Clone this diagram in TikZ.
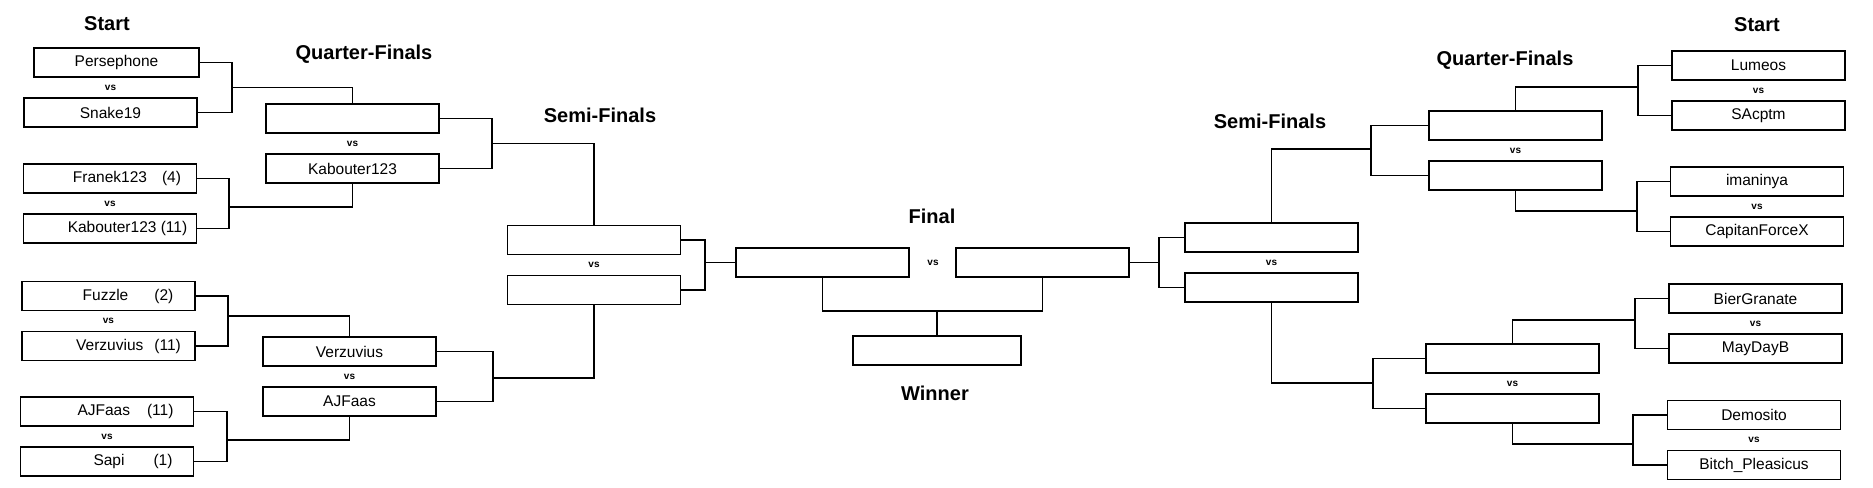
\documentclass[tikz,border=0pt]{standalone}
\usepackage{fontspec}
\setmainfont{Liberation Sans}
\usepackage{tikz}
\usetikzlibrary{positioning}

\begin{document}
\begin{tikzpicture}[x=1pt, y=-1pt, node distance=50pt, line width=1.6pt,
    team/.style={rectangle, draw, minimum width=173pt, minimum height=29pt, inner sep=0pt, font=\fontsize{15.5}{18}\selectfont},
    vs/.style={inner sep=0pt, font=\fontsize{10}{12}\selectfont\bfseries},
    roundtitle/.style={inner sep=0pt, font=\fontsize{20}{24}\selectfont\bfseries},
    line/.style={draw}]

    \path [use as bounding box, fill=white] (0,0) rectangle (1873,487);

    % left half
    \node [roundtitle] (startl) at (107,24) {Start};
    \node [roundtitle] (qftl) at (364,54) {Quarter-Finals};
    \node [roundtitle] (sftl) at (600,115) {Semi-Finals};

    \node [team, minimum width=165pt] (pers) at (116.5,62.5) {Persephone};
    \node [vs, below of=pers, node distance=25pt, xshift=-6pt] (vs1) {vs};
    \node [team, below of=pers, xshift=-6pt] (snake) {Snake19};
    \node [team] (fran) at (110,178.5) {\hspace*{34pt}Franek123\hspace{15pt}(4)};
    \node [vs, below of=fran, node distance=25pt] (vs2) {vs};
    \node [team, below of=fran] (kab) {\hspace*{35pt}Kabouter123 (11)};
    \node [team] (fuzz) at (108.5,296) {\hspace*{39pt}Fuzzle\hspace{26pt}(2)};
    \node [vs, below of=fuzz, node distance=25pt] (vs3) {vs};
    \node [team, below of=fuzz] (verz) {\hspace*{40pt}Verzuvius\hspace{11pt}(11)};
    \node [team] (ajf) at (107,411.5) {\hspace*{37pt}AJFaas\hspace{17pt}(11)};
    \node [vs, below of=ajf, node distance=25pt] (vs4) {vs};
    \node [team, below of=ajf] (sapi) {\hspace*{52pt}Sapi\hspace{29pt}(1)};

    \node [team] (qf1) at (352.5,118.5) {};
    \node [vs, below of=qf1, node distance=25pt] (vs5) {vs};
    \node [team, below of=qf1] (qf2) {Kabouter123};
    \node [team] (qf3) at (349.5,351.5) {Verzuvius};
    \node [vs, below of=qf3, node distance=25pt] (vs6) {vs};
    \node [team, below of=qf3] (qf4) {AJFaas};

    \node [team] (sf1) at (594,240) {};
    \node [vs, below of=sf1, node distance=25pt] (vs7) {vs};
    \node [team, below of=sf1] (sf2) {};

    % final
    \node [roundtitle] (fintitle) at (932,216) {Final};
    \node [team] (finl) at (822.5,262.5) {};
    \node [vs, right of=finl, node distance=110.5pt] (vsf) {vs};
    \node [team, right of=finl, node distance=220pt] (finr) {};
    \node [team, minimum width=168pt] (win) at (937,350.5) {};
    \node [roundtitle] (wintitle) at (935,393) {Winner};

    % right half
    \node [roundtitle] (sftr) at (1270,121) {Semi-Finals};
    \node [roundtitle] (qftr) at (1505,60) {Quarter-Finals};
    \node [roundtitle] (startr) at (1757,25) {Start};

    \node [team] (sfr1) at (1271.5,237.5) {};
    \node [vs, below of=sfr1, node distance=25pt] (vs8) {vs};
    \node [team, below of=sfr1] (sfr2) {};

    \node [team] (qfr1) at (1515.5,125.5) {};
    \node [vs, below of=qfr1, node distance=25pt] (vs9) {vs};
    \node [team, below of=qfr1] (qfr2) {};
    \node [team] (qfr3) at (1512.5,358.5) {};
    \node [vs, below of=qfr3, node distance=25pt] (vs10) {vs};
    \node [team, below of=qfr3] (qfr4) {};

    \node [team] (lum) at (1758.5,65.5) {Lumeos};
    \node [vs, below of=lum, node distance=25pt] (vs11) {vs};
    \node [team, below of=lum] (sac) {SAcptm};
    \node [team] (iman) at (1757,181.5) {imaninya};
    \node [vs, below of=iman, node distance=25pt] (vs12) {vs};
    \node [team, below of=iman] (cap) {CapitanForceX};
    \node [team] (bier) at (1755.5,298.5) {BierGranate};
    \node [vs, below of=bier, node distance=25pt] (vs13) {vs};
    \node [team, below of=bier] (may) {MayDayB};
    \node [team] (demo) at (1754,415) {Demosito};
    \node [vs, below of=demo, node distance=25pt] (vs14) {vs};
    \node [team, below of=demo] (bitch) {Bitch\_Pleasicus};

    % bracket joints
    \coordinate (j1) at (232,87.5);
    \coordinate (j2) at (229,207);
    \coordinate (j3) at (228,316);
    \coordinate (j4) at (227,440);
    \coordinate (j5) at (492,143.5);
    \coordinate (j6) at (493,378);
    \coordinate (j7) at (705,262.5);
    \coordinate (j8) at (937,311);
    \coordinate (j9) at (1159,262.5);
    \coordinate (j10) at (1371,149);
    \coordinate (j11) at (1373,383);
    \coordinate (j12) at (1638,87);
    \coordinate (j13) at (1637,211);
    \coordinate (j14) at (1635,320);
    \coordinate (j15) at (1633,444);

    \path [line] (pers.east) -| (j1) |- (snake.east);
    \path [line] (j1) -| (qf1.north);
    \path [line] (fran.east) -| (j2) |- (kab.east);
    \path [line] (j2) -| (qf2.south);
    \path [line] (fuzz.east) -| (j3) |- (verz.east);
    \path [line] (j3) -| (qf3.north);
    \path [line] (ajf.east) -| (j4) |- (sapi.east);
    \path [line] (j4) -| (qf4.south);
    \path [line] (qf1.east) -| (j5) |- (qf2.east);
    \path [line] (j5) -| (sf1.north);
    \path [line] (qf3.east) -| (j6) |- (qf4.east);
    \path [line] (j6) -| (sf2.south);
    \path [line] (sf1.east) -| (j7) |- (sf2.east);
    \path [line] (j7) -- (finl.west);
    \path [line] (finl.south) |- (j8) -| (finr.south);
    \path [line] (j8) -- (win.north);
    \path [line] (sfr1.west) -| (j9) |- (sfr2.west);
    \path [line] (j9) -- (finr.east);
    \path [line] (qfr1.west) -| (j10) |- (qfr2.west);
    \path [line] (j10) -| (sfr1.north);
    \path [line] (qfr3.west) -| (j11) |- (qfr4.west);
    \path [line] (j11) -| (sfr2.south);
    \path [line] (lum.west) -| (j12) |- (sac.west);
    \path [line] (j12) -| (qfr1.north);
    \path [line] (iman.west) -| (j13) |- (cap.west);
    \path [line] (j13) -| (qfr2.south);
    \path [line] (bier.west) -| (j14) |- (may.west);
    \path [line] (j14) -| (qfr3.north);
    \path [line] (demo.west) -| (j15) |- (bitch.west);
    \path [line] (j15) -| (qfr4.south);
\end{tikzpicture}
\end{document}
